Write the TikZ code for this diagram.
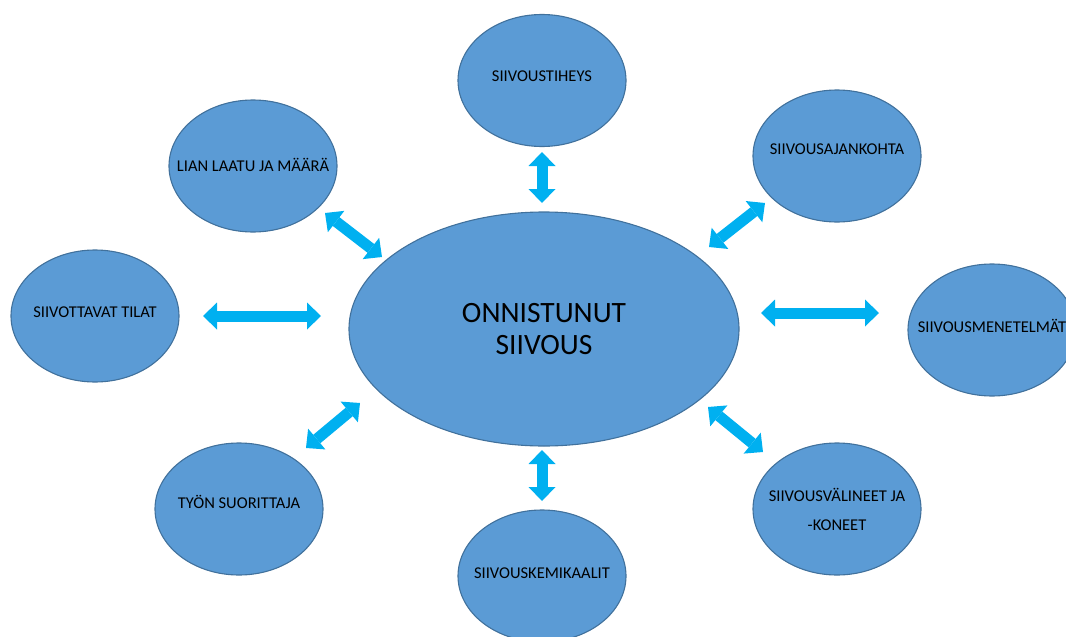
\documentclass[tikz,border=0pt]{standalone}
\usepackage{fontspec}
\setmainfont{Carlito}
\usetikzlibrary{arrows.meta}
\usetikzlibrary{shapes.geometric}
\definecolor{bubblefill}{HTML}{5B9BD5}
\definecolor{bubbleline}{HTML}{41719C}
\definecolor{linkblue}{HTML}{00B0F0}
\newcommand{\nowidth}[2][4pt]{\makebox[0pt]{\raisebox{#1}[0pt][0pt]{#2}}\vphantom{#2}}
\tikzset{bubble/.style = {ellipse, draw=bubbleline, line width=1.1pt, fill=bubblefill,
                          inner sep=0, minimum width=168pt, minimum height=132pt,
                          align=center, font=\fontsize{16.5}{20}\selectfont}}
\tikzset{hub/.style = {bubble, minimum width=390pt, minimum height=234pt,
                       font=\fontsize{29.5}{32}\selectfont}}
\tikzset{link/.style = {draw=linkblue, line width=11pt,
                        arrows={Triangle[width=27pt,length=14pt,line width=0pt]-Triangle[width=27pt,length=14pt,line width=0pt]}}}

\begin{document}
\begin{tikzpicture}[x=1pt, y=-1pt]
    \useasboundingbox (0, 0) rectangle (1066, 637);
    \clip (0, 0) rectangle (1066, 637);

    \node [hub] (goal) at (544, 329) {ONNISTUNUT\\SIIVOUS};

    \node [bubble] (freq) at (542, 80.5) {\nowidth{SIIVOUSTIHEYS}};
    \node [bubble] (dirt) at (253, 166) {\nowidth[1pt]{LIAN LAATU JA MÄÄRÄ}};
    \node [bubble] (timing) at (837, 156) {\nowidth[7pt]{SIIVOUSAJANKOHTA}};
    \node [bubble] (rooms) at (95, 316) {\nowidth{SIIVOTTAVAT TILAT}};
    \node [bubble] (methods) at (992, 330) {\nowidth{SIIVOUSMENETELMÄT}};
    \node [bubble] (worker) at (239, 509) {\nowidth[7pt]{TYÖN SUORITTAJA}};
    \node [bubble] (chems) at (542, 576) {\nowidth[3pt]{SIIVOUSKEMIKAALIT}};
    \node [bubble, font=\fontsize{16.5}{29}\selectfont] (tools) at (837, 509) {\nowidth[0pt]{SIIVOUSVÄLINEET JA}\\\nowidth[0pt]{-KONEET}};

    \coordinate (freq-a) at (542, 152);    \coordinate (freq-b) at (542, 203);
    \coordinate (dirt-a) at (325, 213);    \coordinate (dirt-b) at (382, 257);
    \coordinate (timing-a) at (765, 203);  \coordinate (timing-b) at (709, 247);
    \coordinate (rooms-a) at (203, 316);   \coordinate (rooms-b) at (321, 316);
    \coordinate (methods-a) at (879, 313); \coordinate (methods-b) at (761, 313);
    \coordinate (worker-a) at (306, 448);  \coordinate (worker-b) at (360, 403);
    \coordinate (chems-a) at (542, 501);   \coordinate (chems-b) at (542, 450);
    \coordinate (tools-a) at (763, 452);   \coordinate (tools-b) at (708, 407);

    \foreach \sat in {freq, dirt, timing, rooms, methods, worker, chems, tools}
        \draw [link] (\sat-a) -- (\sat-b);
\end{tikzpicture}
\end{document}
